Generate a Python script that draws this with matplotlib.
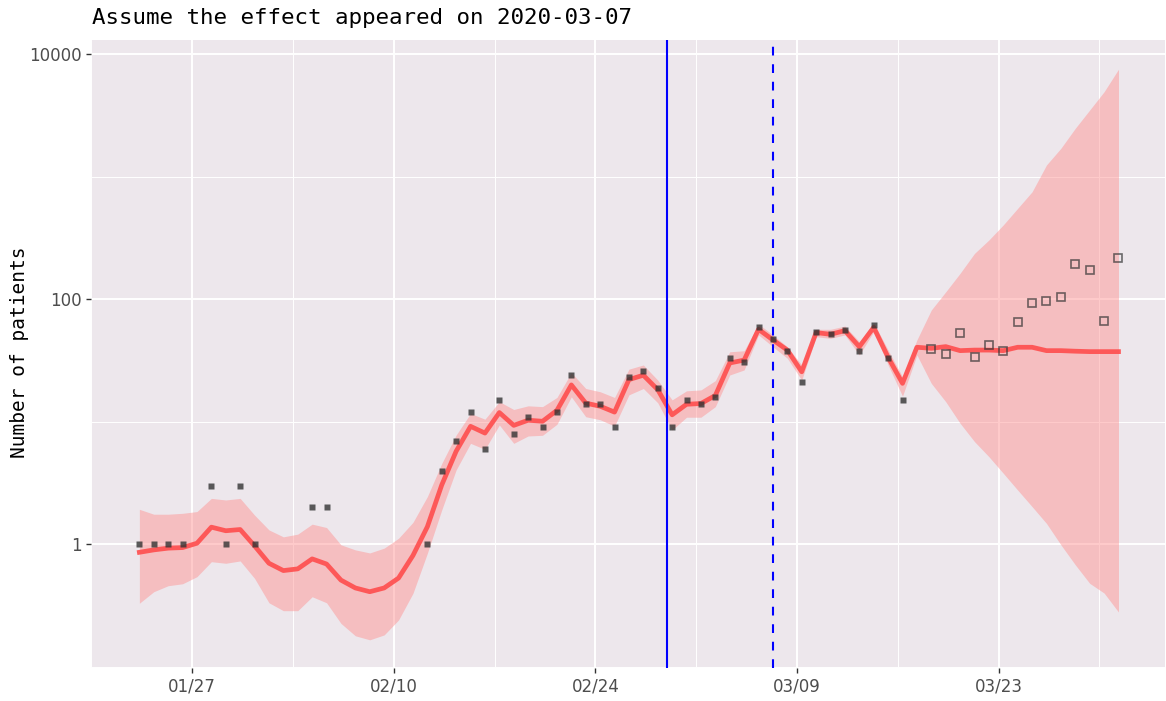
import numpy as np
import pandas as pd
import matplotlib
matplotlib.use("Agg")
import matplotlib.pyplot as plt
from matplotlib.ticker import FixedLocator, NullFormatter

nan = np.nan

# ---------------- data ----------------
start_date = "2020-01-23"
n_days = 69  # 2020-01-23 .. 2020-03-31

# observed counts used for fitting (2020-01-23 .. 2020-03-16); nan = no point shown
observed_fit = [1, 1, 1, 1, nan, 3, 1, 3, 1, nan, nan, nan, 2, 2, nan, nan, nan, nan, nan, nan,
                1, 4, 7, 12, 6, 15, 8, 11, 9, 12, 24, 14, 14, 9, 23, 26, 19, 9, 15, 14,
                16, 33, 31, 59, 47, 38, 21, 54, 52, 56, 38, 62, 33, 15, nan]
# observed counts after the fitting window (2020-03-17 .. 2020-03-31)
observed_new = [39, 36, 53, 34, 42, 38, 65, 93, 96, 104, 193, 172, 67, 219]

fit_mean = [0.86, 0.90, 0.93, 0.94, 1.02, 1.38, 1.29, 1.32, 0.97, 0.70, 0.61, 0.63, 0.76, 0.69,
            0.51, 0.44, 0.41, 0.44, 0.53, 0.81, 1.39, 3.05, 5.75, 9.18, 8.09, 11.9, 9.35, 10.3,
            10.1, 12.4, 20.0, 14.2, 13.4, 12.0, 22.1, 24.0, 18.3, 11.4, 13.9, 14.1, 16.4, 30.2,
            31.9, 56.9, 46.6, 38.5, 25.6, 53.5, 51.8, 55.5, 41.0, 59.0, 33.6, 20.6, 40.6, 39.8,
            41.1, 38.1, 38.5, 38.5, 38.1, 40.6, 40.6, 38.1, 38.1, 37.7, 37.4, 37.4, 37.4]
fit_upper = [1.93, 1.76, 1.76, 1.79, 1.85, 2.37, 2.30, 2.37, 1.73, 1.31, 1.15, 1.21, 1.46, 1.37,
             0.99, 0.90, 0.85, 0.93, 1.12, 1.51, 2.45, 4.57, 7.80, 11.7, 10.5, 14.6, 12.6, 13.5,
             13.3, 15.8, 25.2, 18.7, 17.6, 15.8, 26.9, 29.1, 21.9, 15.1, 17.9, 18.2, 21.7, 37.3,
             38.0, 62.8, 51.2, 41.0, 29.1, 56.9, 56.9, 60.5, 45.1, 64.4, 38.5, 23.3, 46.6, 81.8,
             115, 163, 237, 305, 405, 553, 755, 1250, 1710, 2490, 3510, 4950, 7550]
fit_lower = [0.330, 0.410, 0.459, 0.476, 0.544, 0.721, 0.700, 0.731, 0.527, 0.333, 0.287, 0.287,
             0.373, 0.333, 0.226, 0.179, 0.166, 0.182, 0.241, 0.398, 0.845, 1.91, 4.05, 6.67,
             5.96, 9.42, 6.67, 7.66, 7.76, 9.55, 16.0, 11.0, 10.4, 9.23, 16.6, 18.7, 14.3, 8.57,
             10.9, 10.9, 13.3, 24.1, 26.5, 51.2, 41.0, 33.0, 21.9, 49.5, 48.0, 51.2, 35.1, 54.5,
             29.1, 16.2, 35.1, 20.6, 14.6, 9.73, 6.89, 5.19, 3.80, 2.77, 2.03, 1.48, 0.99, 0.68,
             0.48, 0.40, 0.28]

tick_dates = ["2020-01-27", "2020-02-10", "2020-02-24", "2020-03-09", "2020-03-23"]
tick_labels = ["01/27", "02/10", "02/24", "03/09", "03/23"]
minor_dates = ["2020-01-20", "2020-02-03", "2020-02-17", "2020-03-02", "2020-03-16", "2020-03-30"]
start_line_date = "2020-02-29"
effect_date = "2020-03-07"
title = "Assume the effect appeared on 2020-03-07"
ylabel = "Number of patients"
y_ticks = [1, 100, 10000]
y_tick_labels = ["1", "100", "10000"]
y_minor = [0.1, 10, 1000]

# ---------------- plotting ----------------
dates = pd.date_range(start_date, periods=n_days, freq="D")
fit_dates = dates[:len(observed_fit)]
new_dates = dates[len(observed_fit):]
grid_shift = pd.Timedelta(hours=8)  # axis breaks sit at local midnight

W, H = 1166, 701
fig = plt.figure(figsize=(W / 100, H / 100), dpi=100)
ax = fig.add_axes([91 / W, 1 - 668 / H, (1165 - 91) / W, (668 - 40) / H])

panel = "#EDE7EC"
ax.set_facecolor(panel)
for s in ax.spines.values():
    s.set_visible(False)

ax.set_yscale("log")
ax.set_ylim(10 ** -1.01, 10 ** 4.117)
ax.set_xlim(dates[0] - pd.Timedelta(days=3.36), dates[-1] + pd.Timedelta(days=3.23))

major_x = pd.to_datetime(tick_dates) - grid_shift
minor_x = pd.to_datetime(minor_dates) - grid_shift
ax.xaxis.set_major_locator(FixedLocator(matplotlib.dates.date2num(major_x)))
ax.xaxis.set_minor_locator(FixedLocator(matplotlib.dates.date2num(minor_x)))
ax.set_xticklabels(tick_labels)
ax.xaxis.set_minor_formatter(NullFormatter())

ax.yaxis.set_major_locator(FixedLocator(y_ticks))
ax.yaxis.set_minor_locator(FixedLocator(y_minor))
ax.set_yticklabels(y_tick_labels)
ax.yaxis.set_minor_formatter(NullFormatter())

ax.grid(which="major", color="white", lw=1.4)
ax.grid(which="minor", color="white", lw=0.7)
ax.set_axisbelow(True)
ax.tick_params(which="major", length=3.5, width=1.0, color="#333333",
               labelsize=11, labelcolor="#4D4D4D", pad=3)
ax.tick_params(which="minor", length=0)
for lab in ax.get_xticklabels() + ax.get_yticklabels():
    lab.set_family(["Liberation Sans Narrow", "DejaVu Sans"])
    lab.set_fontsize(12)

ax.fill_between(dates, fit_lower, fit_upper, color=(1.0, 0.55, 0.55), alpha=0.45,
                lw=0, zorder=2)
ax.plot(dates, fit_mean, color="#FF4D4D", lw=3.4, alpha=0.9, zorder=3,
        solid_joinstyle="round")

ax.plot(fit_dates, observed_fit, ls="none", marker="s", ms=4.6, color="#333333",
        alpha=0.8, mec="none", zorder=4)
ax.plot(new_dates, observed_new, ls="none", marker="s", ms=6.0, mfc="none",
        mec="#333333", mew=1.2, alpha=0.7, zorder=4)

ax.axvline(pd.Timestamp(start_line_date) - grid_shift, color="blue", lw=1.5, zorder=5)
ax.axvline(pd.Timestamp(effect_date), color="blue", lw=1.5, ls=(0, (4.2, 4.2)), zorder=5)

fig.text(92 / W, 1 - 18 / H, title, family="DejaVu Sans Mono", fontsize=16.2,
         ha="left", va="center", color="black")
fig.text(20 / W, 1 - 352 / H, ylabel, family="DejaVu Sans Mono", fontsize=14,
         rotation=90, ha="center", va="center", color="black")

fig.savefig("out.png", dpi=100)
